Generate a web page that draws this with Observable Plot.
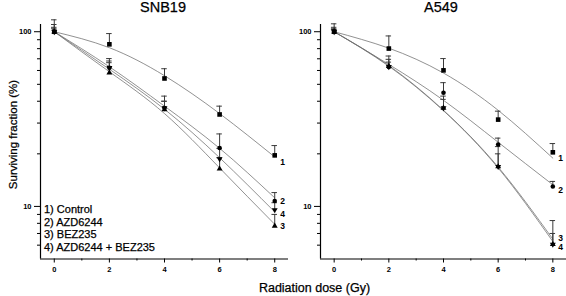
<!DOCTYPE html>
<html>
<head>
<meta charset="utf-8">
<script src="https://cdn.jsdelivr.net/npm/d3@7"></script>
<script src="https://cdn.jsdelivr.net/npm/@observablehq/plot@0.6"></script>
<style>
  html, body { margin: 0; padding: 0; background: #fff; }
  #wrap { position: relative; width: 566px; height: 296px; font-family: "Liberation Sans", Arial, sans-serif; color: #000; background: #fff; overflow: hidden; }
  .abs { position: absolute; white-space: nowrap; }
  .heavy { -webkit-text-stroke: 0.25px #000; }
</style>
</head>
<body>
<div id="wrap">
  <div id="left" class="abs" style="left:0;top:0"></div>
  <div id="right" class="abs" style="left:288px;top:0"></div>
  <div id="t1" class="abs heavy" style="top:-0.5px;font-size:14.5px;line-height:15px;"></div>
  <div id="t2" class="abs heavy" style="top:-0.5px;font-size:14.5px;line-height:15px;"></div>
  <div id="xl" class="abs heavy" style="top:281px;font-size:12.5px;line-height:14px;"></div>
  <div id="yl" class="abs heavy" style="font-size:11.5px;line-height:13px;width:200px;text-align:center;transform:rotate(-90deg);transform-origin:50% 50%;"></div>
  <div id="legend" class="abs heavy" style="left:44px;top:203px;font-size:11px;line-height:12.7px;"></div>
</div>
<script>
// ---- data ----
const doses = [0, 2, 4, 6, 8];
const panelTitles = ["SNB19", "A549"];
const xLabel = "Radiation dose (Gy)";
const yLabel = "Surviving fraction (%)";
const legendItems = ["1) Control", "2) AZD6244", "3) BEZ235", "4) AZD6244 + BEZ235"];
const xTicks = [0, 2, 4, 6, 8];
const xMinorTicks = [1, 3, 5, 7];
const yTicks = [10, 100];
const yMinorTicks = [6, 7, 8, 9, 20, 30, 40, 50, 60, 70, 80, 90];

// SNB19
const snbControl    = [100, 84.7, 54.0, 33.6, 19.6];
const snbControlErr = [110, 97.6, 61.4, 37.5, 22.3];
const snbControlFit = [100, 81, 56, 34, 19.2];
const snbAZD        = [100, 62.2, 36.6, 21.6, 10.75];
const snbAZDErr     = [117, 70.2, 42.8, 26.0, 12.0];
const snbAZDFit     = [100, 63, 37.5, 21.5, 11.2];
const snbBEZ        = [100, 58.3, 35.8, 16.4, 7.73];
const snbBEZErr     = [104, 66.5, 40.0, 19.0, 9.0];
const snbBEZFit     = [100, 59, 34, 16.6, 7.9];
const snbCombo      = [100, 62.2, 36.6, 18.7, 9.55];
const snbComboErr   = [106, 68.0, 40.0, 21.5, 10.5];
const snbComboFit   = [100, 61, 36, 19, 9.3];
const snbLabelText  = ["1", "2", "4", "3"];
const snbLabelY     = [17.9, 10.66, 9.0, 7.65];

// A549
const aControl      = [100, 80.1, 60.1, 31.4, 20.4];
const aControlErr   = [111, 94.6, 70.2, 35.1, 22.9];
const aControlFit   = [100, 80.5, 58, 35.5, 18.9];
const aAZD          = [100, 62.8, 44.7, 22.6, 13.0];
const aAZDErr       = [106, 72.6, 51.1, 24.6, 13.9];
const aAZDFit       = [100, 65, 40.5, 23.3, 13.3];
const aBEZ          = [100, 63.5, 36.6, 16.9, 6.06];
const aBEZErr       = [104, 69.5, 42.8, 22.0, 8.3];
const aBEZFit       = [100, 64, 35.5, 16.8, 6.5];
const aCombo        = [100, 63.0, 36.6, 16.9, 6.06];
const aComboErr     = [103, 67.0, 41.0, 20.0, 7.0];
const aComboFit     = [100, 63.5, 35.3, 16.6, 6.3];
const aLabelText    = ["1", "2", "3", "4"];
const aLabelY       = [18.9, 12.4, 6.6, 5.83];

// ---- build ----
const FONT = '"Liberation Sans", Arial, sans-serif';
function rowsOf(key, vals, errs, fits) {
  return doses.map((d, i) => ({key, dose: d, v: vals[i], err: errs[i], fit: fits[i]}));
}
function panel(series, labelText, labelY, width, marginLeft) {
  const all = series.flatMap(s => s.rows);
  const labels = labelText.map((t, i) => ({t, y: labelY[i], x: doses[doses.length - 1]}));
  const marks = [
    Plot.line(all, {x: "dose", y: "fit", z: "key", curve: "natural", stroke: "#6e6e6e", strokeWidth: 0.75}),
    Plot.ruleX(all, {x: "dose", y1: "v", y2: "err", stroke: "#3a3a3a", strokeWidth: 1}),
    Plot.ruleY(all, {y: "err", x1: d => d.dose - 0.1, x2: d => d.dose + 0.1, stroke: "#3a3a3a", strokeWidth: 1})
  ];
  for (const s of series) {
    marks.push(Plot.dot(s.rows, {x: "dose", y: "v", symbol: s.symbol, r: s.r, fill: "black", stroke: "none", rotate: s.rotate || 0}));
  }
  marks.push(
    Plot.ruleY([5], {stroke: "black", strokeWidth: 1.2}),
    Plot.ruleX([-0.5], {stroke: "black", strokeWidth: 1.2}),
    Plot.axisY({ticks: yTicks, tickSize: 6, tickPadding: 3, fontSize: 7.5, fontWeight: "bold", tickFormat: d => String(d), label: null}),
    Plot.axisY({ticks: yMinorTicks, tickSize: 3, tickFormat: () => "", label: null}),
    Plot.axisX({ticks: xTicks, tickSize: 4, tickPadding: 4, fontSize: 7.5, fontWeight: "bold", tickFormat: d => String(d), label: null}),
    Plot.axisX({ticks: xMinorTicks, tickSize: 2, tickFormat: () => "", label: null}),
    Plot.text(labels, {x: "x", y: "y", text: "t", dx: 5.5, textAnchor: "start", fontSize: 8.5, fontWeight: "bold"})
  );
  return Plot.plot({
    width, height: 296,
    marginLeft, marginRight: 0, marginTop: 24, marginBottom: 37.5,
    style: {background: "transparent", fontFamily: FONT, color: "black", overflow: "visible"},
    x: {domain: [-0.5, 8.5]},
    y: {type: "log", domain: [5, 110]},
    marks
  });
}

const leftSeries = [
  {rows: rowsOf("c", snbControl, snbControlErr, snbControlFit), symbol: "square", r: 2.6},
  {rows: rowsOf("a", snbAZD, snbAZDErr, snbAZDFit), symbol: "circle", r: 2.3},
  {rows: rowsOf("b", snbBEZ, snbBEZErr, snbBEZFit), symbol: "triangle", r: 2.2},
  {rows: rowsOf("ab", snbCombo, snbComboErr, snbComboFit), symbol: "triangle", r: 2.2, rotate: 180}
];
const rightSeries = [
  {rows: rowsOf("c", aControl, aControlErr, aControlFit), symbol: "square", r: 2.6},
  {rows: rowsOf("a", aAZD, aAZDErr, aAZDFit), symbol: "circle", r: 2.3},
  {rows: rowsOf("b", aBEZ, aBEZErr, aBEZFit), symbol: "triangle", r: 2.2},
  {rows: rowsOf("ab", aCombo, aComboErr, aComboFit), symbol: "triangle", r: 2.2, rotate: 180}
];

document.getElementById("left").append(panel(leftSeries, snbLabelText, snbLabelY, 288, 40));
document.getElementById("right").append(panel(rightSeries, aLabelText, aLabelY, 278, 32));

function centerAt(el, text, cx) {
  el.textContent = text;
  const w = el.getBoundingClientRect().width;
  el.style.left = (cx - w / 2) + "px";
}
centerAt(document.getElementById("t1"), panelTitles[0], 163);
centerAt(document.getElementById("t2"), panelTitles[1], 441);
centerAt(document.getElementById("xl"), xLabel, 314.5);
const yl = document.getElementById("yl");
yl.textContent = yLabel;
yl.style.left = (13 - 100) + "px";
yl.style.top = (134 - 6.5) + "px";
document.getElementById("legend").innerHTML = legendItems.map(t => `<div>${t}</div>`).join("");
</script>
</body>
</html>
